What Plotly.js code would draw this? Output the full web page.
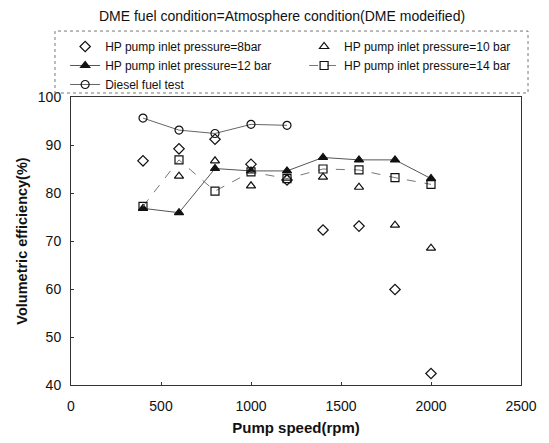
<!DOCTYPE html>
<html><head><meta charset="utf-8">
<script src="https://cdn.plot.ly/plotly-3.0.1.min.js"></script>
<style>html,body{margin:0;padding:0;background:#fff}#chart{width:549px;height:443px}</style>
</head><body><div id="chart"></div>
<script>
const speed = [400, 600, 800, 1000, 1200, 1400, 1600, 1800, 2000];
const speedDiesel = [400, 600, 800, 1000, 1200];
const p8bar = [86.7, 89.2, 91.2, 86.0, 82.7, 72.3, 73.1, 59.9, 42.4];
const p10bar = [null, 83.5, 86.7, 81.5, 83.1, 83.3, 81.2, 73.3, 68.5];
const p12bar = [76.8, 75.9, 85.1, 84.6, 84.6, 87.4, 86.9, 86.9, 83.0];
const p14bar = [77.2, 86.9, 80.4, 84.4, 83.0, 85.0, 84.8, 83.2, 81.8];
const diesel = [95.6, 93.1, 92.4, 94.3, 94.1];
const names = ["HP pump inlet pressure=8bar", "HP pump inlet pressure=10 bar",
  "HP pump inlet pressure=12 bar", "HP pump inlet pressure=14 bar", "Diesel fuel test"];
const xTicks = [0, 500, 1000, 1500, 2000, 2500];
const yTicks = [40, 50, 60, 70, 80, 90, 100];

const mk = (sym) => ({symbol: sym, size: 8, color: '#111', line: {color: '#111', width: 1.2}});
const traces = [
  {x: speed, y: p8bar, name: names[0], legend: 'legend', mode: 'markers', marker: mk('diamond-open')},
  {x: speed, y: p10bar, name: names[1], legend: 'legend2', mode: 'markers', marker: mk('triangle-up-open')},
  {x: speed, y: p12bar, name: names[2], legend: 'legend', mode: 'lines+markers', marker: mk('triangle-up'), line: {color: '#555', width: 1}},
  {x: speed, y: p14bar, name: names[3], legend: 'legend2', mode: 'lines+markers', marker: mk('square-open'), line: {color: '#777', width: 1, dash: 'dash'}},
  {x: speedDiesel, y: diesel, name: names[4], legend: 'legend', mode: 'lines+markers', marker: mk('circle-open'), line: {color: '#666', width: 1}}
];
const legCommon = {orientation: 'v', yanchor: 'top', xanchor: 'left', bgcolor: 'rgba(0,0,0,0)',
  borderwidth: 0, font: {size: 12}, itemwidth: 30, tracegroupgap: 0, traceorder: 'normal'};
const layout = {
  width: 549, height: 443,
  margin: {l: 71, r: 28, t: 97, b: 58},
  paper_bgcolor: '#fff', plot_bgcolor: '#fff',
  font: {family: 'Arial, Liberation Sans, sans-serif', color: '#111', size: 14},
  title: {text: 'DME fuel condition=Atmosphere condition(DME modeified)', font: {size: 14},
    x: 0.469, xref: 'paper', xanchor: 'center', y: 0.964, yanchor: 'middle'},
  showlegend: true,
  legend: Object.assign({}, legCommon, {x: -0.013, y: 1.2257}),
  legend2: Object.assign({}, legCommon, {x: 0.518, y: 1.2257}),
  shapes: [{type: 'rect', xref: 'paper', yref: 'paper', x0: -0.0356, x1: 1.0156, y0: 1.0139, y1: 1.229,
    line: {color: '#777', width: 1, dash: 'dot'}, fillcolor: 'rgba(0,0,0,0)'}],
  xaxis: {range: [0, 2500], tickvals: xTicks, showgrid: false, zeroline: false,
    showline: true, linecolor: '#333', linewidth: 1, mirror: true, ticks: 'inside', ticklen: 3, tickcolor: '#333',
    ticklabelstandoff: 8,
    title: {text: '<b>Pump speed(rpm)</b>', font: {size: 15}, standoff: 9}},
  yaxis: {range: [40, 100], tickvals: yTicks, showgrid: false, zeroline: false,
    showline: true, linecolor: '#333', linewidth: 1, mirror: true, ticks: 'inside', ticklen: 3, tickcolor: '#333',
    ticklabelstandoff: 6,
    title: {text: '<b>Volumetric efficiency(%)</b>', font: {size: 14.5}, standoff: 6}}
};
Plotly.newPlot('chart', traces, layout, {displayModeBar: false, staticPlot: true});
</script></body></html>
